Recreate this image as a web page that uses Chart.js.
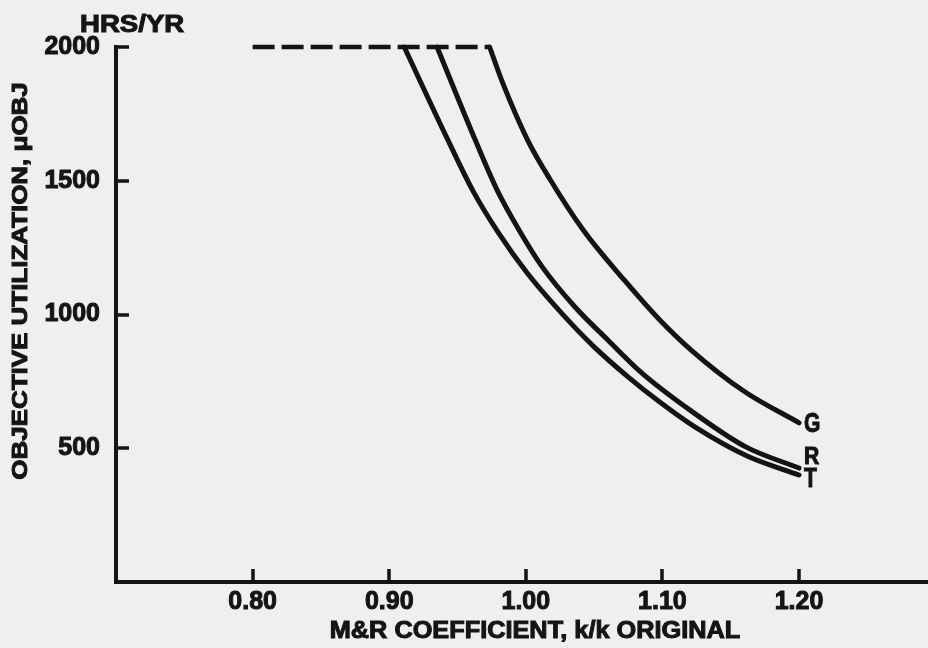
<!DOCTYPE html>
<html>
<head>
<meta charset="utf-8">
<title>Objective utilization vs M&amp;R coefficient</title>
<script src="https://cdn.jsdelivr.net/npm/chart.js@4/dist/chart.umd.min.js"></script>
<style>
    html, body { margin: 0; padding: 0; background: #efefed; }
    #wrap { width: 928px; height: 648px; }
</style>
</head>
<body>
<div id="wrap"><canvas id="chart" width="928" height="648"></canvas></div>
<script>
const xTicks = [0.80, 0.90, 1.00, 1.10, 1.20];
const yTicks = [500, 1000, 1500, 2000];

// dashed cap at the 2000 hrs/yr ceiling
const capX = [0.80, 0.9735];
const capY = [2000, 2000];

// curve G
const gX = [0.9735, 0.9835, 1.0013, 1.018, 1.042, 1.072, 1.097, 1.121, 1.160, 1.200];
const gY = [2000, 1860, 1652, 1503, 1316, 1129, 985, 867, 712, 595];

// curve R
const rX = [0.935, 0.963, 0.979, 0.995, 1.012, 1.036, 1.060, 1.085, 1.122, 1.161, 1.200];
const rY = [2000, 1652, 1465, 1316, 1178, 1028, 905, 781, 636, 505, 426];

// curve T
const tX = [0.911, 0.943, 0.961, 0.980, 1.001, 1.026, 1.050, 1.075, 1.099, 1.124, 1.162, 1.200];
const tY = [2000, 1652, 1465, 1305, 1155, 1006, 879, 766, 669, 579, 471, 400];

const curveNames = ['G', 'R', 'T'];

const FONT = "'Liberation Sans', Arial, sans-serif";
const INK = '#141414';

const toPoints = (xs, ys) => xs.map((x, i) => ({ x: x, y: ys[i] }));

const curveStyle = {
    borderColor: INK,
    borderWidth: 5,
    borderCapStyle: 'round',
    borderJoinStyle: 'round',
    pointRadius: 0,
    showLine: true,
    cubicInterpolationMode: 'monotone',
    clip: false
};

// paper colour, inward tick marks, hand-lettered titles and curve tags
const lettering = {
    id: 'lettering',
    beforeDraw(chart) {
        const ctx = chart.ctx;
        ctx.save();
        ctx.fillStyle = '#efefed';
        ctx.fillRect(0, 0, chart.width, chart.height);
        ctx.restore();
    },
    afterDraw(chart) {
        const ctx = chart.ctx;
        const xs = chart.scales.x;
        const ys = chart.scales.y;
        const area = chart.chartArea;

        ctx.save();
        ctx.strokeStyle = INK;
        ctx.lineWidth = 3.5;
        ctx.lineCap = 'butt';
        ctx.beginPath();
        xTicks.forEach(v => {
            const px = Math.round(xs.getPixelForValue(v));
            ctx.moveTo(px, area.bottom);
            ctx.lineTo(px, area.bottom - 13);
        });
        yTicks.forEach(v => {
            const py = Math.round(ys.getPixelForValue(v));
            ctx.moveTo(area.left, py);
            ctx.lineTo(area.left + 13, py);
        });
        ctx.stroke();
        ctx.restore();

        const text = (str, x, y, size, stretch, align, rotate) => {
            ctx.save();
            ctx.translate(x, y);
            if (rotate) ctx.rotate(rotate);
            ctx.scale(stretch, 1);
            ctx.font = `bold ${size}px ${FONT}`;
            ctx.fillStyle = INK;
            ctx.strokeStyle = INK;
            ctx.lineWidth = 1;
            ctx.textAlign = align;
            ctx.textBaseline = 'middle';
            ctx.fillText(str, 0, 0);
            ctx.strokeText(str, 0, 0);
            ctx.restore();
        };

        text('HRS/YR', 80, 26, 23, 1.2, 'left');
        text('OBJECTIVE UTILIZATION, \u03BCOBJ', 21, 281, 22, 1.18, 'center', -Math.PI / 2);
        text('M&R COEFFICIENT, k/k ORIGINAL', 535, 632, 23, 1.1, 'center');

        // tags at the end of each curve: [x, y, vertical nudge, size, stretch]
        const ends = [
            [gX[gX.length - 1], gY[gY.length - 1], 2, 27, 0.78],
            [rX[rX.length - 1], rY[rY.length - 1], -10, 23, 0.92],
            [tX[tX.length - 1], tY[tY.length - 1], 5, 27, 0.78]
        ];
        ends.forEach((e, i) => {
            const px = xs.getPixelForValue(e[0]);
            const py = ys.getPixelForValue(e[1]);
            text(curveNames[i], px + 5, py + e[2], e[3], e[4], 'left');
        });
    }
};

new Chart(document.getElementById('chart').getContext('2d'), {
    type: 'scatter',
    data: {
        datasets: [
            {
                data: toPoints(capX, capY),
                borderColor: INK,
                borderWidth: 4.5,
                borderDash: [22, 7],
                pointRadius: 0,
                showLine: true,
                clip: false
            },
            Object.assign({ data: toPoints(gX, gY) }, curveStyle),
            Object.assign({ data: toPoints(rX, rY) }, curveStyle),
            Object.assign({ data: toPoints(tX, tY) }, curveStyle)
        ]
    },
    options: {
        responsive: false,
        animation: false,
        layout: { padding: { top: 47, right: 0, bottom: 0, left: 0 } },
        plugins: {
            legend: { display: false },
            tooltip: { enabled: false }
        },
        scales: {
            x: {
                type: 'linear',
                min: 0.70,
                max: 1.2944,
                afterBuildTicks: (scale) => {
                    scale.ticks = xTicks.map(v => ({ value: v }));
                },
                afterFit: (scale) => { scale.height = 66; },
                border: { display: true, color: INK, width: 4 },
                grid: { display: false, drawTicks: false },
                ticks: {
                    color: INK,
                    padding: 5,
                    maxRotation: 0,
                    textStrokeColor: INK,
                    textStrokeWidth: 1,
                    font: { family: FONT, size: 25, weight: 'bold' },
                    callback: (v) => v.toFixed(2)
                }
            },
            y: {
                type: 'linear',
                min: 0,
                max: 2000,
                afterBuildTicks: (scale) => {
                    scale.ticks = yTicks.map(v => ({ value: v }));
                },
                afterFit: (scale) => { scale.width = 116; },
                border: { display: true, color: INK, width: 4 },
                grid: { display: false, drawTicks: false },
                ticks: {
                    color: INK,
                    padding: 16,
                    textStrokeColor: INK,
                    textStrokeWidth: 1,
                    font: { family: FONT, size: 25, weight: 'bold' },
                    callback: (v) => String(v)
                }
            }
        }
    },
    plugins: [lettering]
});
</script>
</body>
</html>
